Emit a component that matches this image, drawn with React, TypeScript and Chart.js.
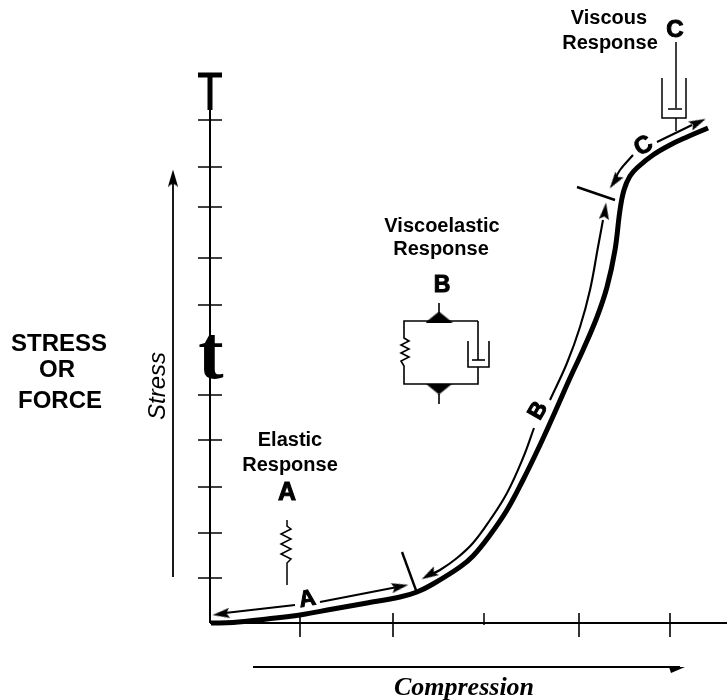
import React, { useEffect, useRef } from "react";
import { Chart, registerables } from "chart.js";

Chart.register(...registerables);

const stressAxis = [[0, 0], [0, 513]];
const compressionAxis = [[0, 0], [517, 0]];
const stressTicks = [45, 90, 136, 183, 228, 318, 365, 416, 456, 503];
const compressionTicks = [90, 183, 369, 460];
const stressCurve = [[1, 0], [23, 0.5], [57, 4], [90, 8], [123, 14], [157, 20], [190, 26], [207, 31], [223, 39], [250, 56], [263, 67], [280, 88], [297, 113], [313, 143], [330, 178], [345, 211], [360, 245], [373, 273], [387, 306], [397, 336], [405, 373], [410, 413], [414, 433], [420, 447], [428, 456], [443, 468], [460, 478], [477, 486], [498, 495]];
const regionALeft = [[15, 10], [85, 18]];
const regionARight = [[110, 21], [190, 36.5]];
const regionBLower = [[219, 48], [230, 53], [247, 65], [263, 80], [280, 103], [297, 130], [313, 165], [324, 195]];
const regionBUpper = [[340, 223], [357, 260], [370, 296], [380, 333], [388, 376], [393, 403]];
const regionCLower = [[404, 441], [410, 453], [423, 468]];
const regionCUpper = [[447, 481], [482, 498]];
const boundaries = [[[192, 71], [207, 30]], [[367, 436], [405, 423]]];
const springA = [[77, 103], [77, 97], [81, 94], [71, 89], [81, 84], [71, 79], [81, 74], [71, 69], [81, 64], [77, 60], [77, 38]];
const circuitB = [
  [[229, 320], [229, 308]],
  [[229, 302], [194, 302], [194, 285], [199, 282], [191, 278], [199, 274], [191, 270], [199, 266], [191, 262], [194, 257], [194, 239], [268, 239], [268, 256]],
  [[268, 302], [229, 302]],
  [[268, 302], [268, 263]],
  [[258, 282], [258, 256], [279, 256], [279, 282]],
  [[262, 263], [275, 263]],
  [[229, 229], [229, 219]],
];
const dashpotC = [
  [[466, 581], [466, 515]],
  [[452, 545], [452, 505], [476, 505], [476, 545]],
  [[458, 514], [472, 514]],
  [[466, 505], [466, 492]],
];
const inputArrows = [[[-37, 46], [-37, 445]], [[43, -44], [470, -44]]];
const arrowHeads = [[11, 9, 173], [190, 36.5, -11], [219, 48, 150], [395, 412, -83], [404.6, 441.5, 125], [488, 500.5, -25], [-37, 445, -90]];
const compressionHead = [[467, -44]];
const circuitCaps = [[229, 306, 0], [229, 234, 180]];

type Label = { t: string; x: number; y: number; f: string; r?: number; s?: number };
const sans = "'Liberation Sans'";
const labels: Label[] = [
  { t: "STRESS", x: -151, y: 272, f: `bold 24px ${sans}` },
  { t: "OR", x: -153, y: 246, f: `bold 24px ${sans}` },
  { t: "FORCE", x: -150, y: 215, f: `bold 24px ${sans}` },
  { t: "Elastic", x: 80, y: 177, f: `bold 20px ${sans}` },
  { t: "Response", x: 80, y: 152, f: `bold 20px ${sans}` },
  { t: "A", x: 77, y: 123, f: `bold 25px ${sans}`, s: 1 },
  { t: "Viscoelastic", x: 232, y: 391, f: `bold 20px ${sans}` },
  { t: "Response", x: 231, y: 368, f: `bold 20px ${sans}` },
  { t: "B", x: 232, y: 331, f: `bold 23px ${sans}`, s: 1 },
  { t: "Viscous", x: 399, y: 599, f: `bold 20px ${sans}` },
  { t: "Response", x: 400, y: 574, f: `bold 20px ${sans}` },
  { t: "C", x: 465, y: 586, f: `bold 24px ${sans}`, s: 1 },
  { t: "Compression", x: 254, y: -72, f: "italic bold 26px 'Liberation Serif'" },
  { t: "t", x: 1, y: 245, f: "bold 76px 'Liberation Serif'" },
  { t: "A", x: 97, y: 25, f: `bold 23px ${sans}`, r: -10, s: 1 },
  { t: "B", x: 327, y: 213, f: `bold 23px ${sans}`, r: -60, s: 1 },
  { t: "C", x: 433, y: 478, f: `bold 24px ${sans}`, r: -30, s: 1 },
  { t: "Stress", x: -53, y: 237, f: `italic 24px ${sans}`, r: -90 },
];

const toPoints = (a: number[][]) => a.map(([x, y]) => ({ x, y }));

function shape(w: number, h: number, pts: number[][]) {
  const c = document.createElement("canvas");
  c.width = w;
  c.height = h;
  const g = c.getContext("2d")!;
  g.fillStyle = "#000";
  g.beginPath();
  pts.forEach(([x, y], i) => (i ? g.lineTo(x, y) : g.moveTo(x, y)));
  g.closePath();
  g.fill();
  return c;
}

const textPlugin = {
  id: "diagramText",
  afterDatasetsDraw(chart: any) {
    const { ctx, scales } = chart;
    ctx.save();
    ctx.fillStyle = "#000";
    ctx.strokeStyle = "#000";
    ctx.textAlign = "center";
    ctx.textBaseline = "alphabetic";
    labels.forEach((l) => {
      ctx.save();
      ctx.translate(scales.x.getPixelForValue(l.x), scales.y.getPixelForValue(l.y));
      if (l.r) ctx.rotate((l.r * Math.PI) / 180);
      ctx.font = l.f;
      const dy = l.r ? 8 : 0;
      ctx.fillText(l.t, 0, dy);
      if (l.s) {
        ctx.lineWidth = l.s;
        ctx.strokeText(l.t, 0, dy);
      }
      ctx.restore();
    });
    ctx.restore();
  },
};

export default function App() {
  const ref = useRef<HTMLCanvasElement>(null);
  useEffect(() => {
    const head = shape(17, 10, [[17, 5], [0, 0], [3, 5], [0, 10]]);
    const halfHead = shape(16, 14, [[16, 7], [0, 7], [2, 13]]);
    const cap = shape(27, 11, [[13.5, 0], [27, 11], [0, 11]]);
    const line = (data: number[][], width: number, extra: any = {}) => ({
      type: "line",
      data: toPoints(data),
      borderColor: "#000",
      backgroundColor: "#000",
      borderWidth: width,
      pointRadius: 0,
      tension: 0,
      ...extra,
    });
    const datasets: any[] = [
      line(stressAxis, 2),
      line(compressionAxis, 2),
      line(stressCurve, 5, { tension: 0.4 }),
      ...[regionALeft, regionARight].map((d) => line(d, 2.2)),
      ...[regionBLower, regionBUpper, regionCLower, regionCUpper].map((d) => line(d, 2.1, { tension: 0.4 })),
      ...boundaries.map((d) => line(d, 2.4)),
      line(springA, 1.5),
      ...circuitB.map((d) => line(d, 1.6)),
      ...dashpotC.map((d) => line(d, 1.5)),
      ...inputArrows.map((d) => line(d, 1.8)),
      line([[0, 513], [0, 546]], 5),
      line([[274, -2], [274, 10]], 1.5),
      {
        type: "scatter",
        data: [{ x: 0, y: 548 }],
        pointStyle: "line",
        pointRadius: 12,
        borderColor: "#000",
        pointBorderWidth: 5,
      },
      {
        type: "scatter",
        data: stressTicks.map((y) => ({ x: 0, y })),
        pointStyle: "line",
        pointRadius: 12,
        borderColor: "#000",
        pointBorderWidth: 1.5,
      },
      {
        type: "scatter",
        data: compressionTicks.map((x) => ({ x, y: -2 })),
        pointStyle: "line",
        pointRadius: 12,
        pointRotation: 90,
        borderColor: "#000",
        pointBorderWidth: 1.6,
      },
      {
        type: "scatter",
        data: arrowHeads.map(([x, y]) => ({ x, y })),
        pointStyle: head,
        pointRotation: arrowHeads.map((a) => a[2]),
      },
      {
        type: "scatter",
        data: toPoints(compressionHead),
        pointStyle: halfHead,
      },
      {
        type: "scatter",
        data: circuitCaps.map(([x, y]) => ({ x, y })),
        pointStyle: cap,
        pointRotation: circuitCaps.map((a) => a[2]),
      },
    ];
    const chart = new Chart(ref.current!, {
      type: "line",
      data: { datasets },
      options: {
        animation: false,
        responsive: false,
        layout: { padding: 0, autoPadding: false },
        plugins: { legend: { display: false }, tooltip: { enabled: false } },
        scales: {
          x: { type: "linear", display: false, min: -210, max: 517 },
          y: { type: "linear", display: false, min: -77, max: 623 },
        },
      },
      plugins: [textPlugin],
    } as any);
    return () => chart.destroy();
  }, []);
  return (
    <div style={{ position: "absolute", left: 0, top: 0, width: 727, height: 700, background: "#fff" }}>
      <canvas ref={ref} width={727} height={700} style={{ display: "block" }} />
    </div>
  );
}
